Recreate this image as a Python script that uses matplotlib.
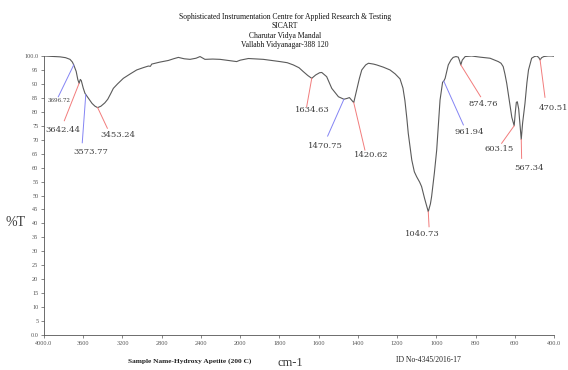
import numpy as np
import matplotlib.pyplot as plt

# FTIR spectrum, Hydroxy Apetite (200 C)
wavenumber = [
    4000, 3900, 3837, 3780, 3735, 3710, 3697, 3672, 3655, 3642, 3630, 3620,
    3600, 3582, 3574, 3550, 3510, 3480, 3453, 3420, 3380, 3350, 3320, 3293,
    3250, 3191, 3120, 3055, 2990, 2936, 2915, 2902, 2820, 2732, 2680, 2630,
    2570, 2511, 2450, 2409, 2380, 2359, 2280, 2205, 2120, 2036, 2000, 1958,
    1882, 1797, 1760, 1729, 1700, 1678, 1655, 1635, 1615, 1595, 1584, 1559,
    1533, 1499, 1471, 1455, 1443, 1432, 1421, 1406, 1392, 1380, 1360, 1346,
    1320, 1304, 1270, 1236, 1210, 1185, 1170, 1160, 1150, 1143, 1125, 1112,
    1100, 1085, 1075, 1060, 1041, 1030, 1024, 1010, 998, 990, 981, 968,
    962, 955, 945, 939, 925, 914, 900, 888, 880, 875, 868, 853,
    820, 778, 726, 684, 670, 659, 650, 641, 632, 624, 615, 603,
    597, 592, 587, 580, 567, 560, 548, 538, 530, 514, 500, 488,
    478, 471, 463, 452, 430, 412, 400,
]
transmittance = [
    100.0, 99.8, 99.7, 99.4, 98.8, 97.8, 96.8, 94.5, 91.5, 90.2, 91.6, 91.2,
    88.5, 86.6, 86.2, 85.0, 83.0, 82.0, 81.5, 82.0, 83.2, 84.5, 86.5, 88.4,
    90.0, 92.0, 93.6, 95.0, 95.8, 96.4, 96.3, 97.1, 97.8, 98.4, 99.0, 99.5,
    99.0, 98.8, 99.2, 99.8, 99.2, 98.8, 98.9, 98.8, 98.4, 98.0, 98.5, 99.1,
    98.8, 98.0, 97.6, 96.8, 95.8, 94.4, 93.0, 92.0, 93.2, 94.0, 94.1, 92.6,
    88.4, 85.4, 84.5, 84.8, 85.1, 84.2, 83.3, 87.8, 92.0, 95.0, 96.8, 97.4,
    97.1, 96.8, 96.0, 95.0, 93.6, 91.8, 88.5, 84.0, 77.5, 72.3, 62.7, 58.5,
    56.7, 54.8, 53.2, 49.0, 44.2, 47.0, 49.6, 58.0, 66.3, 75.0, 84.2, 90.6,
    91.0, 92.0, 95.0, 96.8, 98.6, 99.5, 99.8, 99.6, 98.0, 96.8, 98.5, 99.8,
    100.0, 99.6, 99.2, 98.0, 97.4, 96.2, 93.5, 90.2, 86.0, 82.4, 78.0, 75.0,
    80.0, 83.4, 83.6, 81.0, 70.1, 76.0, 83.0, 90.5, 95.0, 99.2, 99.8, 100.0,
    99.5, 98.6, 99.4, 99.8, 100.0, 100.0, 99.9,
]

# picked peaks: label, position on spectrum, leader colour
peak_labels = ["3696.72", "3642.44", "3573.77", "3453.24", "1634.63", "1470.75",
               "1420.62", "1040.73", "961.94", "874.76", "603.15", "567.34", "470.51"]
peak_wn = [3697, 3642, 3574, 3453, 1635, 1471, 1421, 1041, 962, 875, 603, 567, 471]
peak_t = [96.8, 90.2, 86.2, 81.5, 92.0, 84.5, 83.3, 44.2, 91.0, 96.8, 75.0, 70.1, 98.6]
peak_kind = ["b", "r", "b", "r", "r", "b", "r", "r", "b", "r", "r", "r", "r"]

x_ticks = [4000, 3600, 3200, 2800, 2400, 2000, 1800, 1600, 1400, 1200, 1000, 800, 600, 400]
x_tick_labels = ["4000.0", "3600", "3200", "2800", "2400", "2000", "1800", "1600",
                 "1400", "1200", "1000", "800", "600", "400.0"]
y_ticks = list(range(0, 101, 5))
y_tick_labels = ["0.0"] + [str(v) for v in range(5, 100, 5)] + ["100.0"]

# leader line end and label centre (wavenumber, %T), label font size
leader_end = [(3854, 85.4), (3793, 76.8), (3610, 68.9), (3354, 74.1), (1661, 81.8),
              (1554, 71.3), (1364, 66.3), (1037, 38.8), (862, 75.3), (774, 85.4),
              (667, 68.7), (565, 63.3), (446, 85.2)]
label_pos = [(3842, 84.0), (3808, 73.5), (3526, 65.7), (3245, 71.7), (1631, 80.5),
             (1565, 67.7), (1330, 64.5), (1070, 36.1), (831, 72.9), (762, 82.8),
             (680, 66.7), (527, 59.7), (405, 81.3)]
label_size = [4.0, 6.0, 6.0, 6.0, 6.0, 6.0, 6.0, 6.0, 6.0, 6.0, 6.0, 6.0, 6.0]
leader_colors = {"r": "#f27c7c", "b": "#8484f4"}

SERIF = "Liberation Serif"
GREY = "#3a3a3a"


# two-range wavenumber axis: 400 cm-1 per division above 2000, 200 below
def wn_forward(x):
    x = np.asarray(x, dtype=float)
    return np.where(x >= 2000, (x - 4000) / 400.0, (x - 2000) / 200.0 - 5)


def wn_inverse(p):
    p = np.asarray(p, dtype=float)
    return np.where(p >= -5, 4000 + 400.0 * p, 2000 + 200.0 * (p + 5))


fig = plt.figure(figsize=(5.68, 3.70), dpi=100)
ax = fig.add_axes([44 / 568, 35 / 370, 510 / 568, 279 / 370])

ax.set_xscale("function", functions=(wn_forward, wn_inverse))
ax.plot(wavenumber, transmittance, color="#5a5a5a", lw=0.8)
ax.set_xlim(4000, 400)
ax.set_ylim(0, 100)

for lab, wn, t, kind, (ex, ey), (lx, ly), fs in zip(
        peak_labels, peak_wn, peak_t, peak_kind, leader_end, label_pos, label_size):
    ax.plot([wn, ex], [t, ey], color=leader_colors[kind], lw=0.7)
    ax.text(lx, ly, lab, ha="center", va="center", fontsize=fs,
            family="DejaVu Serif", color=GREY, clip_on=False)

ax.set_xticks(x_ticks)
ax.set_xticklabels(x_tick_labels)
ax.set_yticks(y_ticks)
ax.set_yticklabels(y_tick_labels)
ax.minorticks_off()
ax.tick_params(axis="both", direction="out", length=2, width=0.5, color="#555555",
               labelsize=4.5, labelcolor="#555555", pad=2)
for lbl in ax.get_xticklabels() + ax.get_yticklabels():
    lbl.set_family(SERIF)

for side in ("top", "right"):
    ax.spines[side].set_visible(False)
for side in ("left", "bottom"):
    ax.spines[side].set_color("#555555")
    ax.spines[side].set_linewidth(0.6)

header = ["Sophisticated Instrumentation Centre for Applied Research & Testing",
          "SICART", "Charutar Vidya Mandal", "Vallabh Vidyanagar-388 120"]
for i, line in enumerate(header):
    fig.text(285 / 568, 1 - (17 + 9.3 * i) / 370, line, ha="center", va="center",
             fontsize=5.5, family=SERIF, color="#111111")

fig.text(16 / 568, 1 - 223 / 370, "%T", ha="center", va="center", fontsize=10,
         family=SERIF, color=GREY)
fig.text(190 / 568, 1 - 361 / 370, "Sample Name-Hydroxy Apetite (200 C)",
         ha="center", va="center", fontsize=5.3, family=SERIF, weight="bold",
         color="#222222")
fig.text(290 / 568, 1 - 363 / 370, "cm-1", ha="center", va="center", fontsize=9,
         family=SERIF, color=GREY)
fig.text(428 / 568, 1 - 360 / 370, "ID No-4345/2016-17", ha="center", va="center",
         fontsize=5.5, family=SERIF, color="#222222")

fig.savefig("out.png", dpi=100)
